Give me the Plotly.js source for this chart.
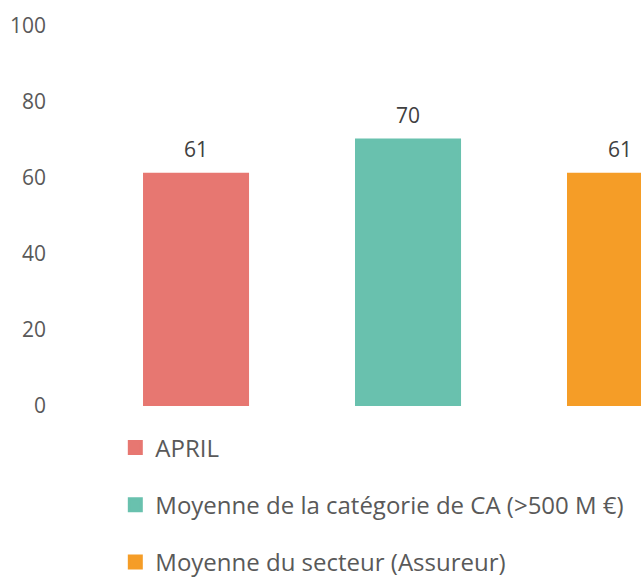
<!DOCTYPE html>
<html>
<head>
<meta charset="utf-8">
<script src="https://cdn.plot.ly/plotly-3.0.1.min.js"></script>
<style>html,body{margin:0;padding:0;background:#fff;}#chart{width:641px;height:579px;}</style>
</head>
<body>
<div id="chart"></div>
<script>
var categories = ['APRIL', 'Moyenne de la catégorie de CA (>500 M €)', 'Moyenne du secteur (Assureur)'];
var values = [61, 70, 61];
var colors = ['#E77771', '#69C1AE', '#F59D27'];
var yTicks = [0, 20, 40, 60, 80, 100];

var traces = categories.map(function (c, i) {
  return {
    type: 'bar',
    x: [c],
    y: [values[i]],
    name: c,
    legendgroup: 'g' + i,
    width: 0.486,
    marker: {color: colors[i], line: {color: colors[i], width: 3}},
    hoverinfo: 'none'
  };
});

var annotations = categories.map(function (c, i) {
  return {
    x: c, y: values[i], xref: 'x', yref: 'y',
    text: String(values[i]), showarrow: false, yshift: 25,
    font: {family: 'Open Sans', size: 21, color: '#404040'}
  };
});

var layout = {
  width: 641, height: 579,
  margin: {l: 47, r: 0, t: 26, b: 173, autoexpand: false},
  paper_bgcolor: '#ffffff', plot_bgcolor: '#ffffff',
  barmode: 'overlay',
  showlegend: true,
  font: {family: 'Open Sans', color: '#595959'},
  xaxis: {type: 'category', range: [-0.703, 2.099], showticklabels: false, showgrid: false, zeroline: false, showline: false, ticks: ''},
  yaxis: {range: [0, 100], tickvals: yTicks, ticktext: yTicks.map(String), showgrid: false, zeroline: false, showline: false, ticks: '',
          tickfont: {family: 'Open Sans', size: 21, color: '#595959'}},
  legend: {orientation: 'v', x: 0.115, xanchor: 'left', y: -0.051, yanchor: 'top', tracegroupgap: 23,
           font: {family: 'Open Sans', size: 24, color: '#595959'}, itemwidth: 30, bgcolor: 'rgba(0,0,0,0)'},
  annotations: annotations
};

Plotly.newPlot('chart', traces, layout, {displayModeBar: false, staticPlot: true});
</script>
</body>
</html>
